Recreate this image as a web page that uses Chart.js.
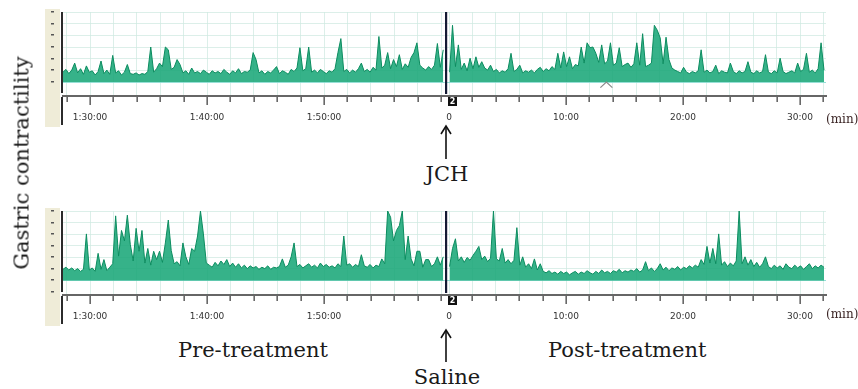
<!DOCTYPE html>
<html><head><meta charset="utf-8">
<script src="https://cdn.jsdelivr.net/npm/chart.js@4.4.1/dist/chart.umd.min.js"></script>
<style>
html,body{margin:0;padding:0;background:#fff;}
#wrap{position:relative;width:858px;height:389px;overflow:hidden;background:#fff;}
canvas{position:absolute;left:0;}
.t{position:absolute;font-family:"DejaVu Serif",serif;font-size:21px;line-height:21px;color:#1a1a1a;white-space:nowrap;}
.u{position:absolute;font-family:"DejaVu Serif",serif;font-size:12px;line-height:12px;color:#3a2424;white-space:nowrap;}
svg{position:absolute;left:0;top:0;}
</style></head>
<body><div id="wrap">
<canvas id="c1" width="858" height="130" style="top:0px"></canvas>
<canvas id="c2" width="858" height="130" style="top:196px"></canvas>
<div class="t" style="left:22px;top:163px;transform:translate(-50%,-50%) rotate(-90deg);">Gastric contractility</div>
<div class="u" style="left:826px;top:113px;">(min)</div>
<div class="u" style="left:826px;top:308px;">(min)</div>
<div class="t" style="left:447px;top:164px;transform:translateX(-50%);">JCH</div>
<div class="t" style="left:178px;top:340px;">Pre-treatment</div>
<div class="t" style="left:548px;top:340px;">Post-treatment</div>
<div class="t" style="left:447px;top:367px;transform:translateX(-50%);">Saline</div>
<svg width="858" height="389">
<g stroke="#111" stroke-width="1.6" fill="none">
<line x1="446" y1="126" x2="446" y2="159"/><polyline points="441,134 446,126 451,134"/>
<line x1="446" y1="330" x2="446" y2="362"/><polyline points="441,338 446,330 451,338"/>
</g></svg>
</div>
<script>
// sampling: one value every quarter minute
const STEP = 0.25;
const PRE_START = 87.692;      // minutes (clock) at left edge of trace
const POST_ZERO = 120.684;     // axis position of post-treatment 0:00
const POST_START = 0.05;       // first post sample (min)
const MARKER_T = -0.25;        // injection marker (post min)
const X_MIN = 87.692, X_MAX = 152.906;

const preMajorMin = [90, 100, 110];
const preMajorLabels = ['1:30:00', '1:40:00', '1:50:00'];
const postMajorMin = [0, 10, 20, 30];
const postMajorLabels = ['0', '10:00', '20:00', '30:00'];

const topPre = [14,18,12,17,27,13,19,11,23,14,16,10,15,30,12,17,11,38,13,16,10,14,25,12,11,13,10,12,11,15,
50,14,19,27,22,50,46,18,21,32,25,13,16,11,20,13,15,12,17,14,11,16,13,15,12,18,14,11,16,13,
19,12,15,14,17,42,32,13,16,11,15,13,17,22,12,16,14,11,18,15,20,49,16,19,50,14,17,13,18,15,
12,16,14,19,42,62,15,18,13,17,14,19,27,15,18,14,21,17,65,20,24,42,19,32,22,39,18,26,21,35,
42,56,24,20,17,22,18,24,55,21,46];
const topPost = [14,81,22,53,18,27,16,34,19,36,21,29,20,17,24,15,18,13,16,14,19,41,15,18,24,13,16,14,17,13,
18,21,15,19,16,22,18,41,20,43,22,36,19,25,23,50,27,56,49,50,41,28,53,26,30,56,24,27,49,22,
25,27,21,26,56,24,69,22,24,27,81,74,63,26,64,32,20,17,15,13,21,14,12,15,13,16,46,14,17,13,
15,24,12,16,14,13,27,15,12,16,13,15,29,14,12,16,13,15,39,14,12,16,13,34,15,12,14,16,13,27,
15,18,41,14,17,13,19,56,17];
const botPre = [16,19,15,18,14,17,13,16,67,15,18,13,39,16,30,14,19,24,93,35,72,57,94,52,28,75,42,72,25,46,
22,42,30,42,26,54,87,43,24,27,21,54,34,23,46,42,64,100,67,25,22,19,26,21,28,23,30,20,25,19,
24,18,22,17,21,18,20,16,19,17,21,16,19,18,20,31,19,22,34,54,20,23,18,21,24,19,22,18,25,20,
23,19,21,18,24,20,64,22,24,19,23,20,37,21,19,23,18,22,20,31,24,100,91,57,72,79,100,30,64,31,
21,42,42,19,30,30,20,24,34,22,34];
const botPost = [20,46,60,28,34,26,33,29,36,42,49,30,35,27,32,100,31,28,46,25,30,24,29,76,22,34,19,24,17,31,
15,24,13,11,14,10,12,9,13,10,12,8,11,13,9,12,10,14,11,9,13,10,15,11,13,10,14,12,16,11,
14,12,15,13,17,12,15,27,14,18,13,17,24,15,19,14,18,16,20,15,19,17,21,18,22,19,30,23,49,25,
46,24,67,22,27,20,25,21,28,100,24,34,22,30,20,26,19,24,34,20,17,22,18,21,16,24,19,17,22,18,
21,16,20,24,17,21,18,22,19];

function prePoints(vals){ return vals.map((v,i)=>({x: PRE_START + i*STEP, y: v})); }
function postPoints(vals){ return vals.map((v,i)=>({x: POST_ZERO + POST_START + i*STEP, y: v})); }

// axis ticks every 2 minutes
const tickList = [];
for (let m = 88; m <= 120; m += 2) {
  const k = preMajorMin.indexOf(m);
  tickList.push({value: m, label: k >= 0 ? preMajorLabels[k] : '', major: k >= 0});
}
for (let m = 0; m <= 32; m += 2) {
  const k = postMajorMin.indexOf(m);
  tickList.push({value: POST_ZERO + m, label: k >= 0 ? postMajorLabels[k] : '', major: k >= 0});
}

const decor = {
  id: 'decor',
  beforeDraw(chart) {
    const {ctx, chartArea: a} = chart;
    ctx.save();
    ctx.fillStyle = '#efecd8';
    ctx.fillRect(45, a.top - 3, 15, a.bottom - a.top + 34);
    ctx.restore();
  },
  afterDraw(chart, args, opts) {
    const {ctx, chartArea: a, scales: {x, y}} = chart;
    ctx.save();
    ctx.fillStyle = '#2b2b2b';
    ctx.fillRect(a.left - 2, a.top, 2, a.bottom - a.top - 3);
    ctx.fillRect(a.left - 2, a.bottom + 1, 2, 28);
    ctx.fillStyle = '#555';
    opts.marks.forEach(v => { const py = y.getPixelForValue(v); ctx.fillRect(51, Math.round(py) - 1, 3, 1.5); });
    ctx.fillStyle = '#444';
    tickList.forEach(t => {
      const px = x.getPixelForValue(t.value);
      ctx.fillRect(Math.round(px) - 0.5, a.bottom + 1, 1.3, t.major ? 8 : 5);
    });
    const mx = Math.round(x.getPixelForValue(POST_ZERO + MARKER_T));
    ctx.fillStyle = '#141a33';
    ctx.fillRect(mx - 1, a.top, 2.2, a.bottom - a.top - 2);
    ctx.fillStyle = '#111';
    ctx.fillRect(mx + 2, a.bottom + 1, 9, 9);
    ctx.fillStyle = '#fff';
    ctx.font = 'bold 8px "DejaVu Sans"';
    ctx.textAlign = 'center'; ctx.textBaseline = 'middle';
    ctx.fillText('2', mx + 6.5, a.bottom + 5.8);
    if (opts.chevronT !== undefined) {
      const cx = x.getPixelForValue(POST_ZERO + opts.chevronT);
      ctx.strokeStyle = '#8a8a8a'; ctx.lineWidth = 1.2;
      ctx.beginPath();
      ctx.moveTo(cx - 6, y.getPixelForValue(-8));
      ctx.lineTo(cx, y.getPixelForValue(0));
      ctx.lineTo(cx + 6, y.getPixelForValue(-8));
      ctx.stroke();
    }
    ctx.restore();
  }
};

function makeChart(id, pre, post, yMin, padTop, marks, chevronT) {
  const ds = (pts) => ({
    data: pts, borderColor: '#0b8c5f', borderWidth: 1, backgroundColor: 'rgba(32,170,124,0.9)',
    fill: 'origin', pointRadius: 0, tension: 0
  });
  return new Chart(document.getElementById(id), {
    type: 'line',
    data: { datasets: [ds(prePoints(pre)), ds(postPoints(post))] },
    options: {
      responsive: false, animation: false, events: [],
      layout: { padding: { top: padTop, left: 63, right: 32, bottom: 0 } },
      plugins: { legend: { display: false }, tooltip: { enabled: false }, decor: { marks, chevronT } },
      scales: {
        x: {
          type: 'linear', min: X_MIN, max: X_MAX,
          afterBuildTicks: s => { s.ticks = tickList.map(t => ({value: t.value})); },
          afterFit: s => { s.height = 130 - 96 - (padTop - 12); },
          ticks: {
            autoSkip: false, maxRotation: 0, padding: 16,
            font: { family: 'DejaVu Sans', size: 9 }, color: '#333',
            callback: (v, i) => tickList[i] ? tickList[i].label : ''
          },
          grid: { drawTicks: false, color: 'rgba(205,232,224,0.7)', lineWidth: 1 },
          border: { display: true, color: '#666', width: 2 }
        },
        y: {
          type: 'linear', min: yMin, max: 100,
          afterBuildTicks: s => { s.ticks = [0, 100/6, 200/6, 300/6, 400/6, 500/6, 100].map(v => ({value: v})); },
          afterFit: s => { s.width = 0; },
          ticks: { display: false },
          grid: { drawTicks: false, color: c => c.tick.value === 0 ? 'rgba(140,220,210,0.9)' : 'rgba(205,232,224,0.7)' },
          border: { display: false }
        }
      }
    },
    plugins: [decor]
  });
}

const markTop = [0, 100/6, 200/6, 300/6, 400/6, 500/6, 100];
const markBot = [-100/6, 0, 100/6, 200/6, 300/6, 400/6, 500/6, 100];
makeChart('c1', topPre, topPost, -20, 12, markTop, 13.45);
makeChart('c2', botPre, botPost, -21, 15, markBot);
</script>
</body></html>
